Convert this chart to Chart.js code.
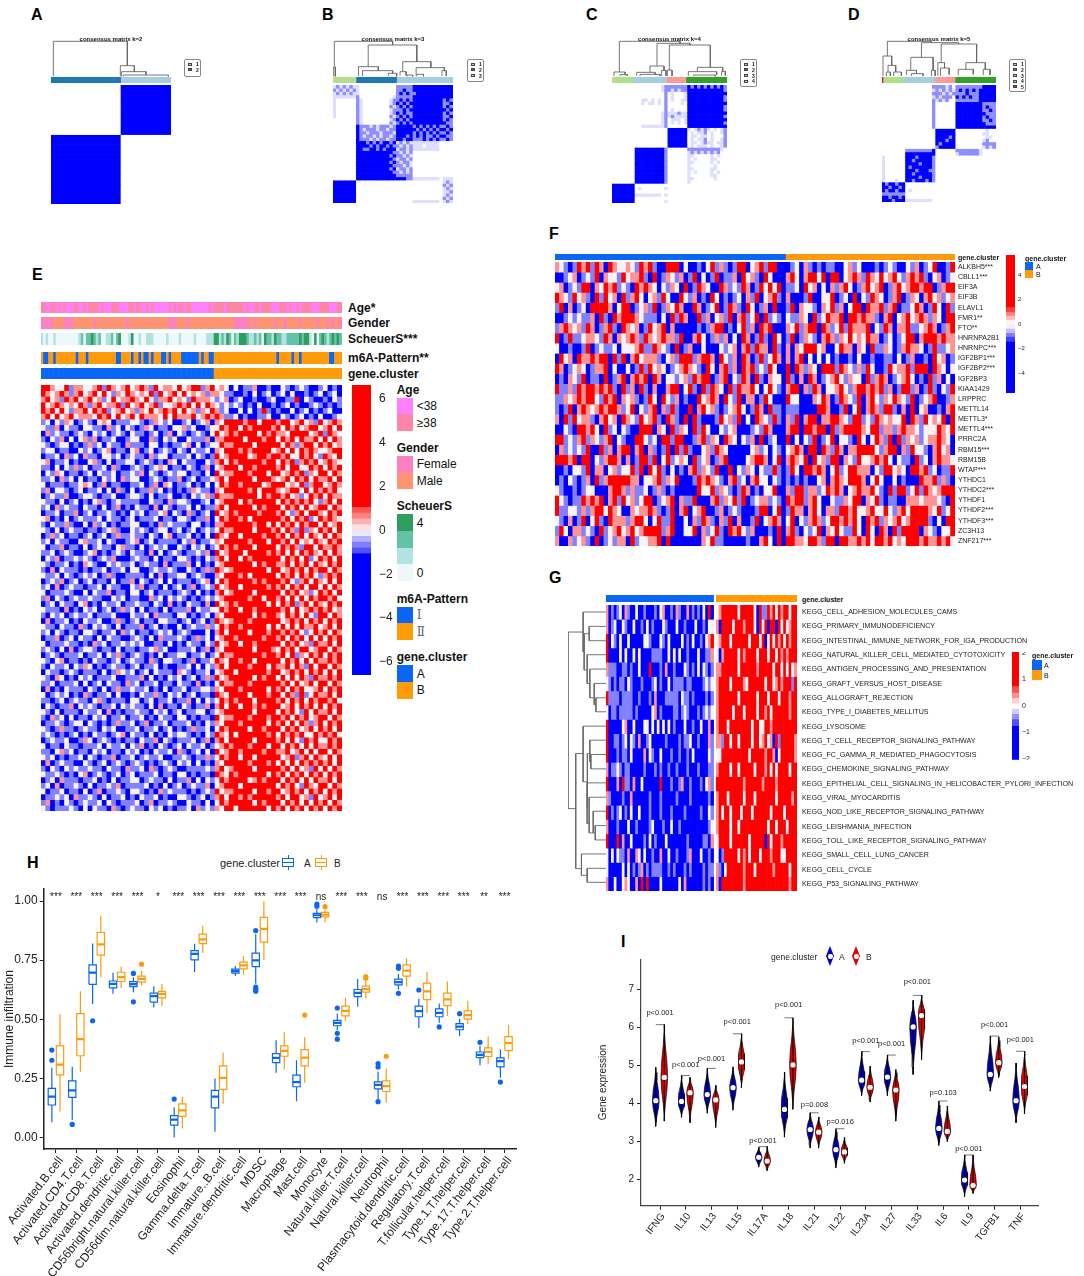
<!DOCTYPE html>
<html>
<head>
<meta charset="utf-8">
<title>m6A gene clusters</title>
<script src="https://cdn.jsdelivr.net/npm/chart.js@4"></script>
<style>
  body { margin: 0; background: #fff; }
  #page { position: relative; width: 1084px; height: 1276px; overflow: hidden; font-family: "Liberation Sans", Arial, sans-serif; }
  #page canvas { position: absolute; }
  .txt { position: absolute; white-space: nowrap; transform: translateY(-50%); color: #111; }
  .rect { position: absolute; box-sizing: border-box; }
</style>
</head>
<body>
<div id="page"></div>
<script>
// ---- panel H data
const cellTypes = ['Activated.B.cell','Activated.CD4.T.cell','Activated.CD8.T.cell','Activated.dendritic.cell','CD56bright.natural.killer.cell','CD56dim.natural.killer.cell','Eosinophil','Gamma.delta.T.cell','Immature..B.cell','Immature.dendritic.cell','MDSC','Macrophage','Mast.cell','Monocyte','Natural.killer.T.cell','Natural.killer.cell','Neutrophil','Plasmacytoid.dendritic.cell','Regulatory.T.cell','T.follicular.helper.cell','Type.1.T.helper.cell','Type.17.T.helper.cell','Type.2.T.helper.cell'];
const cellStars = ['***','***','***','***','***','*','***','***','***','***','***','***','***','ns','***','***','ns','***','***','***','***','**','***'];
const aLow  = [.065,.075,.565,.608,.615,.55,.001,.70,.025,.683,.65,.274,.154,.909,.454,.553,.163,.626,.463,.486,.43,.306,.253];
const aQ1   = [.138,.17,.648,.633,.638,.573,.053,.751,.126,.695,.723,.317,.215,.93,.473,.596,.206,.646,.511,.511,.456,.338,.299];
const aMed  = [.173,.20,.697,.65,.649,.598,.076,.777,.173,.704,.749,.337,.235,.94,.485,.612,.223,.657,.535,.527,.469,.35,.323];
const aQ3   = [.208,.24,.73,.662,.659,.611,.093,.79,.20,.712,.78,.355,.264,.948,.496,.626,.236,.67,.556,.544,.482,.362,.337];
const aHigh = [.295,.30,.82,.697,.678,.64,.128,.819,.25,.725,.86,.412,.327,.966,.524,.671,.278,.692,.587,.567,.503,.388,.374];
const aOut  = [[.37,.327],[.056],[.494],[],[.694,.574],[],[.163],[],[],[],[.875,.636,.626,.619],[],[],[.987,.978],[.548,.441,.416],[],[.313,.299,.152],[.725,.716,.61],[.624],[.468],[.524],[.403],[.235]];
const bLow  = [.11,.278,.678,.632,.643,.555,.039,.78,.143,.688,.751,.289,.232,.91,.494,.587,.147,.639,.527,.514,.48,.31,.331];
const bQ1   = [.265,.346,.771,.66,.657,.591,.09,.82,.204,.713,.826,.344,.303,.933,.515,.615,.195,.683,.583,.558,.501,.343,.368];
const bMed  = [.309,.416,.817,.678,.671,.608,.115,.838,.253,.728,.882,.367,.338,.942,.536,.628,.218,.706,.618,.584,.518,.362,.40];
const bQ3   = [.388,.524,.867,.699,.683,.618,.143,.86,.303,.742,.931,.388,.372,.952,.556,.64,.24,.73,.653,.611,.536,.379,.427];
const bHigh = [.521,.619,.938,.722,.705,.649,.173,.896,.36,.768,.999,.447,.424,.963,.591,.664,.292,.758,.70,.66,.579,.427,.475];
const bOut  = [[],[],[],[],[.733],[],[],[],[],[],[],[],[.518],[.976],[],[.681,.674],[.344],[],[],[],[],[],[]];

// ---- panel I data
const genes = ['IFNG','IL10','IL13','IL15','IL17A','IL18','IL21','IL22','IL23A','IL27','IL33','IL6','IL9','TGFB1','TNF'];
const vAHigh = [4.95,4.73,4.92,4.96,2.84,4.82,3.75,3.33,5.36,5.27,6.71,4.06,2.64,5.77,5.06];
const vALow  = [3.39,3.63,3.74,3.82,2.32,3.11,2.83,2.30,4.2,4.2,4.76,2.89,1.54,4.32,3.49];
const vAMed  = [4.07,4.05,4.23,4.41,2.58,3.84,3.31,2.78,4.61,4.69,6.01,3.34,1.98,4.76,4.07];
const vBHigh = [6.07,4.68,4.47,5.83,2.86,6.25,3.64,3.10,4.98,4.89,6.84,3.93,2.64,5.75,5.37];
const vBLow  = [3.53,3.49,3.36,4.41,2.23,3.84,2.82,2.42,4.04,3.53,5.14,2.99,1.63,4.68,3.72];
const vBMed  = [4.68,4.28,4.09,5.09,2.48,5.01,3.24,2.72,4.42,4.35,6.31,3.26,1.84,5.07,4.44];
const pTexts = ['p<0.001','p<0.001','p<0.001','p<0.001','p<0.001','p<0.001','p=0.008','p=0.016','p<0.001','p<0.001','p<0.001','p=0.103','p<0.001','p<0.001','p<0.001'];
const pHeight = [6.39,5.0,5.18,6.14,3.01,6.58,3.96,3.52,5.64,5.55,7.2,4.28,2.8,6.07,5.66];
const violinUp = [[1,1],[.3,.78],[.6,.32],[.85,.07],[1,0]];

// ---- panel F data
const m6aGenes = ['ALKBH5***','CBLL1***','EIF3A','EIF3B','ELAVL1','FMR1**','FTO**','HNRNPA2B1','HNRNPC***','IGF2BP1***','IGF2BP2***','IGF2BP3','KIAA1429','LRPPRC','METTL14','METTL3*','METTL4***','PRRC2A','RBM15***','RBM15B','WTAP***','YTHDC1','YTHDC2***','YTHDF1','YTHDF2***','YTHDF3***','ZC3H13','ZNF217***'];
const m6aRows = [
 '3210143414 3043223214 3410044402 0010241310 1440234144 00 0120310101 1002312000 1012100213 01240014',
 '0012301214 0322142334 1040132130 1402014011 3042310420 00 3420344240 4402343143 2423421343 41023012',
 '2301214403 2434121043 4320213204 0143200431 2143014242 40 1120423020 3134201342 3401342344 34401344',
 '4321423104 1423041342 0231420042 1301042010 1203140234 10 3000140022 4012040214 3201340132 03423123',
 '1403012044 4430244012 3140132430 0430124014 3104201304 00 1403221032 4130244043 3413401124 30142041',
 '0012121130 4104344432 1110204143 0041302314 0341240412 10 2113204124 3340443433 1034023423 43132044',
 '1343231430 1341043230 1423403000 0010134401 0241304340 00 3241344043 1241433340 2143033411 23430134',
 '4014112332 1430323431 4323433140 0342013130 2043014104 20 1401321034 3132423243 3012012440 34443433',
 '2001001401 2112022234 1143210401 3002000212 3034143304 10 3032444230 0243303204 1132013433 20141123',
 '0423043343 4404140342 3331023144 4134430421 3043014124 30 3034020202 0100102001 0011020130 01042301',
 '4301232013 3402002014 1423201234 3210420341 3043412142 00 4043132044 4143213142 0014233414 44043202',
 '0103214011 0401340343 4043022123 1434401340 2143041032 20 4103043012 3421322041 3430123420 10413020',
 '4113143443 4341041304 1030034402 4104143204 1433420242 10 3440314302 2342134434 3413014413 01410214',
 '1132343442 1434032310 1420421301 0042343042 1403301420 00 4220003243 0143214034 2132432140 12340013',
 '1014034323 4344312402 1340314100 4034231012 3420143041 10 1110000443 0014024034 3144103040 23001034',
 '3041423310 3423043214 2341043104 0410001423 1402043214 10 3140344033 4432144121 4323224043 14232404',
 '0021044342 0412021004 4403204132 0414200212 3000121430 00 3440443440 4134444324 4133134332 12224324',
 '4412134132 1340210044 2120441440 0134132043 2021304012 00 4020214012 4022104202 4314041323 12334320',
 '0312121400 4130344034 0310140414 1002314320 0000231202 10 2343044043 1430334444 2134403142 21034230',
 '4443404402 1344303014 4140241232 0412301340 0002344302 40 3432404231 4403214223 4342021104 12034332',
 '0010221403 3023122414 0424102010 3413214004 0213202114 10 1420443430 2412443330 2144232044 34120114',
 '0102101304 1344444330 2234132400 0143432103 4120342202 10 1010100230 3432444302 4200201000 43341310',
 '2100101220 0034431311 2013101000 0042241321 0143010224 00 3144133124 3430234334 2104144124 14323444',
 '4210114343 4034142312 4401234031 1400034132 4140123312 10 4344134200 2113244032 4101100333 23332104',
 '4112213134 4243200323 3431014034 0234001301 2100014402 40 1433034203 3144342234 2242134244 44324124',
 '2103014024 1043331344 2024114002 0314310314 0300140234 30 2402134312 4434342043 4132342344 44102044',
 '1420331210 4123423423 4444134002 2403124104 3421300010 40 3410212403 2421142042 0430414444 03210224',
 '3003123104 0121330412 2334040000 0003241100 0001003420 40 4433244314 4044334342 4434232444 34334342'
];

// ---- panel G data
const keggPaths = ['KEGG_CELL_ADHESION_MOLECULES_CAMS','KEGG_PRIMARY_IMMUNODEFICIENCY','KEGG_INTESTINAL_IMMUNE_NETWORK_FOR_IGA_PRODUCTION','KEGG_NATURAL_KILLER_CELL_MEDIATED_CYTOTOXICITY','KEGG_ANTIGEN_PROCESSING_AND_PRESENTATION','KEGG_GRAFT_VERSUS_HOST_DISEASE','KEGG_ALLOGRAFT_REJECTION','KEGG_TYPE_I_DIABETES_MELLITUS','KEGG_LYSOSOME','KEGG_T_CELL_RECEPTOR_SIGNALING_PATHWAY','KEGG_FC_GAMMA_R_MEDIATED_PHAGOCYTOSIS','KEGG_CHEMOKINE_SIGNALING_PATHWAY','KEGG_EPITHELIAL_CELL_SIGNALING_IN_HELICOBACTER_PYLORI_INFECTION','KEGG_VIRAL_MYOCARDITIS','KEGG_NOD_LIKE_RECEPTOR_SIGNALING_PATHWAY','KEGG_LEISHMANIA_INFECTION','KEGG_TOLL_LIKE_RECEPTOR_SIGNALING_PATHWAY','KEGG_SMALL_CELL_LUNG_CANCER','KEGG_CELL_CYCLE','KEGG_P53_SIGNALING_PATHWAY'];
const keggRows = [
 '3010120310 0200100010 2300103100 3010102040 . 2344444424 4444204114 3424344244',
 '3012002100 2001020100 0210002001 0002001022 . 3044442444 3444204240 4404242344',
 '4021020020 0000221000 2102000020 1020010234 . 2344424444 4424442402 4243424344',
 '4000020200 2020000111 1002020200 1000200113 . 2034444424 3444424442 4424343444',
 '3111001101 0020004000 1030010002 1010202101 . 3344444424 4444434444 4244242423',
 '2101011021 0001000120 1002011110 1100001212 . 3444424444 3244444424 4234344414',
 '4111101111 0010001030 0011111021 1010000101 . 3444444424 4444424442 4442444344',
 '2011011111 0100000230 1000011012 1000101212 . 3444442444 2444424434 2444444344',
 '4000002300 2000220202 0202010002 0010020030 . 3444244444 4442442244 3444444444',
 '4001101202 1030012000 0010000101 1200100031 . 3314424424 4442442342 3041444443',
 '4000101102 0000302100 2000100100 1020000021 . 2244444444 4424444434 4302444443',
 '3011210110 0000100010 1001001000 1000100011 . 3444424424 4444244434 2424444244',
 '4000304110 3002000000 4000100130 0100010231 . 4444444444 3444444344 4434444444',
 '3100001003 0000001000 1000001000 0100000010 . 3444244444 2444244444 4424444434',
 '4010120102 0020001000 1000100001 0000010021 . 3424424442 4442444444 2444424444',
 '3000100020 0100001200 0100200100 0000000012 . 3444424424 4444444442 4424442444',
 '4000403002 0000102010 0020000000 1000001103 . 2444424444 4424444404 2444344444',
 '2020211030 0320200100 3002001000 1300020010 . 2014444424 3424442444 3444224444',
 '2000002020 1013010111 1001010001 0100001011 . 3102444444 3444244444 4344444244',
 '3002002320 0304040000 2000000203 0000001010 . 3044444444 3444444444 4444444344'
];
const keggTree = [[113,186,68,715,90],[68,126,0,245,65],[65,191,50,300,56],[50,169,0,212,0],[56,254,0,340,48],[48,297,0,383,35],[35,340,0,404,30],[30,383,0,425,0],[90,550,68,895,73],[68,468,0,635,55],[55,550,48,715,56],[48,510,0,575,45],[45,553,0,596,0],[56,638,0,760,50],[50,681,0,788,38],[38,723,0,788,32],[32,766,0,809,0],[73,851,0,915,56],[56,894,0,936,0]];

// ---- panel E data
const ageTrack    = 'bbaabbabab aaabbaabab bbbabaaabb baaaabbabb aababaaaaa abababbabb aaaaaaabab bbbabbbbbb babaabbabb bbaaabbbab aababbbbaa abbbbaaabb';
const genderTrack = 'fffffmmmmf fffmmmmmmm mfmmmmmmmm mmmmfmmmmm mmmmmmmmmm mfffmmmmfm mmmmmmmmmm mmmmmmmfff fffmmfmmmm mmmfmmmfmm mmmfmmmmmm fmmmfmfmmf';
const scheuerTrack= '1010010000 0000012022 3212001120 2300013001 0011100000 1000010000 0100001113 3121320213 3321121203 2213221122 2223233103 0232123232';
const patternTrack= 'baabbabbbb bbbbabbbab bbbbbbbbbb aabbbbabba baababbbaa babbbbaaaa aaababbaab bbbbbbbbbb bbbbbbbbbb bbbbabbbbb abbabbbbbb bbbbbaabbb';
const clusterTrack= 'aaaaaaaaaa aaaaaaaaaa aaaaaaaaaa aaaaaaaaaa aaaaaaaaaa aaaaaaaaaa aaaaaaaaab bbbbbbbbbb bbbbbbbbbb bbbbbbbbbb bbbbbbbbbb bbbbbbbbbb';
const exprRows = [
 '4432241332 2341432342 3431423324 2344134 232 0201130010 0210121001 2010',
 '4323431342 3424213243 2324142342 4232313 321 1001020120 1202001012 0120',
 '3423143423 4231242334 3242133423 2143332 123 0120010012 0011402100 1021',
 '4234323243 1342334142 3423412234 3424243 212 1210102001 0120100121 0101',
 '4342421334 2434123423 1324234342 4231324 312 0020201410 1002012010 1200',
 '3424234233 3243424234 2433324243 3342343 431 1201001120 0210120102 0012',
 '1202132012 1023201112 2101321200 1201230 324 4443442444 3442342314 2343',
 '2113021102 2110312021 0132011022 3120012 243 4424344443 4243423442 3424',
 '0312110121 0212012102 1101201302 1012102 423 4344442434 3324444234 1432',
 '1021302023 1301120012 2003102120 0211130 334 4442444344 2434243342 4243',
 '2101220101 3120211031 1102201011 2302012 243 3444424444 4243134424 3423',
 '1220110021 2012301102 3012012102 1021120 324 4434344442 3424243432 2344',
 '0112031203 1102212012 1103122011 1202101 423 4444234434 4342243421 4324',
 '2301120100 2310201122 0121010320 2110021 342 4344444344 2434134342 3432',
 '1102021312 0112031001 2101232011 0210130 234 4424434444 3424422434 2434',
 '0213201101 2021120112 1302101212 2011020 423 3444344424 4234341324 4243',
 '1120312020 1102120312 2001210113 0120112 342 4444424443 2342434243 3424',
 '2011101123 2013011001 1201303201 1201020 243 4434444234 4423241344 2343',
 '1302210120 1120203102 0113120101 0132110 324 4444342444 3234424243 4342',
 '0121130012 2101120012 2102011200 1021231 433 3444442434 4342312434 2433',
 '2110201201 0231012111 1002110312 2100120 234 4424344444 2434343421 3424',
 '1203121102 1102013010 2110302101 1202011 342 4444424344 4243424234 4243',
 '0112011301 2011210102 1201123021 0310120 423 4344443444 3421342443 2434',
 '2301020121 1120211012 0111201102 2101130 243 4434244444 4342434124 3432',
 '1021131002 0312010112 2001031211 1022010 334 4444434424 2434243442 4234',
 '2102012110 1101231002 1210122012 0120121 243 3444424443 4243141324 3424',
 '0131201101 2012013112 1102102301 1201020 432 4424444344 3424342432 4243',
 '1202110023 1120210012 3012011110 2130112 324 4444344424 4342423243 2434',
 '2011301102 0121102311 0201212002 1021201 243 4344424444 2434314424 3343',
 '1120121001 2301012102 1103020121 0112130 423 4442444434 3424243432 4243',
 '0213011212 1012130001 2110201102 2101021 342 4424344444 4243424124 3424',
 '2101120103 2100212112 0121103011 1302010 234 4444424344 3342434243 2434',
 '1030211101 0112011202 2001211210 0210131 432 3444444424 4234342434 4243',
 '2112021012 1201310011 1102030112 2012100 324 4434244444 2434243421 3434',
 '0121301201 2011020113 0210120201 1101230 243 4444434344 4342134243 2424',
 '1203012110 1120211002 1301102012 0130121 423 4424444434 3424342442 4243',
 '2011121002 0211301102 2012011101 2102010 342 3444424444 4243423124 3424',
 '1302101211 2110021201 1003120212 1010121 234 4444344244 3424242434 4342',
 '0120211023 0102112011 2110210301 0211030 423 4344444424 2434134243 2434',
 '2111030102 1201201312 0201102011 1302112 243 4424434444 4342423434 3423',
 '1021201211 2011120002 1120311102 2010120 324 4444424344 3243424214 4243',
 '0301120102 1120013101 2011022110 1201201 432 3444344444 4234342434 2434',
 '2110211031 0212102011 1301201002 0121131 243 4434444424 2424243342 3424',
 '1202101102 2101120312 0110121201 2100020 342 4444244434 4343421243 4243',
 '0113012021 1020211001 2102031112 1013120 234 4344444344 3424342424 2434',
 '2011121101 0312011212 1200110201 0211021 423 4424434444 4243423143 3424',
 '1210203012 2101102011 0112312001 1120130 324 4444424443 2434244234 4243',
 '0121011120 1120213101 2101020112 2011201 243 3444444344 3424132434 2434',
 '2102301101 0211012012 1103102211 0130112 432 4434424444 4243424243 3434',
 '1021120213 2010121101 2011201001 1202021 342 4444344424 3342431424 4243',
 '0211012101 1102013212 0120211103 2101120 234 4244444434 4234342434 2424',
 '2103201021 2011120011 1302010212 0120131 423 4444424344 2424243143 3434',
 '1120111202 0120211031 2011201102 1103010 243 3444344444 4342423424 4243',
 '0301021110 2102013112 1120102011 2011221 324 4434444424 3424342234 2434',
 '2012120103 1011202001 0211310212 0120110 432 4444244434 4243141243 3424',
 '1101201211 0231011102 2012011201 1302021 243 4344424444 3424342434 4342',
 '0210113021 2101120212 1102030110 2101130 342 4424434344 4234243424 2434',
 '2102011102 1120301011 2110212012 0112201 234 4444424444 2434214243 3424',
 '1031202011 0212011201 1201021102 2010110 423 3444344434 4342434234 4243',
 '0112101220 2101013112 0130112011 1201021 324 4434444424 3424243134 2434',
 '2101311012 1102120011 2011201201 0131120 243 4444244344 4243423424 3424',
 '1210101201 0211012302 1102010212 2101021 432 4244444434 2434342243 4342',
 '0121120013 2012101011 0211302101 1120130 342 4444424444 3424214342 2434',
 '2011021101 1120211202 1301021012 0211201 234 3444344424 4243424243 3434',
 '1102312011 0212011021 2010211203 1012020 423 4434444344 3342342424 4243',
 '2120101120 2101130112 0121120011 2101131 243 4424424444 4234134243 2424',
 '0301211002 1012012101 2101012102 1202010 324 4444344434 2424243434 3424',
 '1021021211 2110211031 1203101210 0111121 342 3444424444 4342423142 4243',
 '2112101023 0121012012 0111201102 2010110 432 4344444424 3424342434 2434',
 '0120311101 1201020112 2012110201 1302021 243 4444234344 4243424243 3424',
 '1203011210 2011213011 1120102012 0121130 234 4424444444 2434214324 4243',
 '2011201102 0130112102 2101031211 1010121 423 3444424434 4234342434 2434',
 '0112120311 2102011201 0211201002 2101201 342 4434344444 3424423142 3424',
 '1301021012 1120210111 2013011210 0211020 243 4444424344 4243424243 4243',
 '2101112102 0211031012 1102120101 1203121 324 4244444424 3424342434 2434'
];

// ---- panels A-D data
const consensusA = [
 '000000033333','000000033333','000000033333','000000033333','000000033333',
 '333333300000','333333300000','333333300000','333333300000','333333300000','333333300000','333333300000'
];
const consensusB = [
 '1212121 1 00000000000 22222 333333333 333','2121212 1 00000000000 22322 333333333 333','1212121 1 00000000000 23232 233333333 333','1111111 2 00000000001 22222 333333333 333',
 '1000000 2 10000000012 23232 333333333 232','1000000 2 10000000012 32323 333333333 223','1000000 2 10000000021 23232 333333333 232','1000000 2 10000000012 22323 333333333 323','1000000 2 10000000012 32322 333333333 232','1000000 2 10000000021 23232 333333333 223','0000000 2 10000000012 32323 333333333 232','0000000 2 10000000021 23232 333333333 322',
 '0000000 3 22212122212 33333 232323232 232','0000000 3 21222122122 33333 323232323 323','0000000 3 22122212221 33333 232323232 232','0000000 3 21221212212 33323 232322323 322','0000000 3 22212122122 33233 222323232 232',
 '0000000 3 33232323323 12121 111111110 000','0000000 3 33323233232 21212 111011110 000','0000000 3 32233232333 12212 111111110 000',
 '0000000 3 33333333332 21212 000000000 000','0000000 3 33333333323 22121 000000000 000','0000000 3 33333333332 12212 000000000 000','0000000 3 33333333323 21221 000000000 000','0000000 3 33333333332 22121 000000000 000','0000000 3 33333333323 12212 000000000 000','0000000 3 33333333332 21212 000000000 000',
 '0000000 3 33333333333 22222 000000000 000','0000000 3 33333333333 33322 111111110 111',
 '3333333 0 00000000000 00000 000000000 121','3333333 0 00000000000 00000 000000000 212','3333333 0 00000000000 00000 000000000 121','3333333 0 00000000000 00000 000000000 112','3333333 0 00000000000 00000 000000000 121','3333333 0 00000000000 00000 000000000 212','3333333 0 00000000000 00000 111111110 121'
];
const consensusC = [
 '0000000 00000000 12 222222 323232323232','0000000 00000000 12 212122 333333333332','0000000 00000000 02 010001 333333333333','0000000 00000000 02 010001 333333333332','0000000 00110101 02 010011 333333333332','0000000 00101101 02 000010 333333333333','0000000 00000000 02 000000 333333333332','0000000 00000000 02 010000 333333333332','0000000 00000000 12 111211 333333333333','0000000 00000000 12 121111 333333333332','0000000 00000000 12 011101 333333333333','0000000 00000000 12 010101 333333333332','0000000 00111111 12 000000 333333333333',
 '0000000 00000000 00 333333 101212101012','0000000 00000000 00 333333 010112010012','0000000 00000000 00 333333 011011010002','0000000 00000000 00 333333 010112010012','0000000 00000000 00 333333 011012110112','0000000 00000000 00 333333 010111010012',
 '0000000 33333333 32 000000 222222222210','0000000 33333333 32 000000 121212121200','0000000 33333333 32 000000 110000010100','0000000 33333333 32 000000 101000011000','0000000 33333333 32 000000 110000010100','0000000 33333333 32 000000 100000001000','0000000 33333333 32 000000 110000011000','0000000 33333333 32 000000 101000010100','0000000 33333333 32 000000 100000011000','0000000 33333333 32 000000 110000001000','0000000 33333333 32 000000 100000000000',
 '3333333 00000000 00 000000 000000000000','3333333 01000000 01 000000 000000000000','3333333 00000000 00 000000 000000000000','3333333 11111111 01 000000 000000000000','3333333 00000000 00 000000 000000000000','3333333 00000000 01 000000 000000000000'
];
const consensusD = [
 '0000000 000000002 222120 222222223333','0000000 000000001 212121 232323233333','0000000 000000002 221212 222322233333','0000000 000000001 212220 323232233333','0000000 000000002 121200 222222233333',
 '0000000 000000002 000000 333333332222','0000000 000000002 000000 333333332322','0000000 000000002 000000 333333332232','0000000 000000002 000000 333333333222','0000000 000000002 000000 333333332322','0000000 000000002 000000 333333332232','0000000 000000002 000000 333333333222','0000000 000000002 000000 333333333333',
 '0000000 000000000 333333 000000000100','0000000 000000000 333333 000000001100','0000000 000000000 333323 000000000110','0000000 000000000 333233 000000001200','0000000 000000000 323333 000000002222','0000000 000000000 233333 000000001212',
 '0000000 222222223 000000 222222210000','0000000 333333333 000000 122222210000',
 '1000000 333233332 000000 000000000000','1000000 332333332 000000 000000000000','1000000 333323332 000000 000000000000','1000000 323333332 000000 000000000000','1000000 333233322 000000 000000000000','1000000 332333332 000000 000000000000','1000000 333323332 000000 000000000000','1000100 332333232 000000 000000000000',
 '3233233 000000000 000000 000000000000','3323323 000000000 000000 000000000000','3233233 010000000 000000 000000000000','2222222 000000000 000000 000000000000','3323323 000000000 000000 000000000000','3332333 111111110 000000 000000000000'
];
const trackA = 'bbbbbbbbbbbbbbbbbbbbbbbbaaaaaaaaaaaaaaaaa';
const trackB = 'ggggggggggggggbbbbbbbbbbbbbbbbbbbbbbbbaaaaaaaaaaaaaaaaaaaaaaaaaaaaaaaaa';
const trackC = 'ggggggggggggggaaaaaaaaaaaaaaaaaaaappppppppppppddddddddddddddddddddddddd';
const trackD = 'rggggggggggggaaaaaaaaaaaaaaaaaaappppppppppppdddddddddddddddddddddddd';
const treeA = [[107,160,2,382,34],[34,361,2,403,16],[16,365,2,438,6],[6,370,2,505,2]];
const treeB = [[107,1004,30,1178,96],[30,1002,2,1007,2],[96,1105,31,1250,46],[31,1076,3,1135,19],[19,1088,3,1178,11],[11,1165,2,1190,2],[46,1208,16,1292,28],[16,1200,4,1218,4],[6,1222,2,1238,2],[28,1248,4,1332,19],[19,1325,3,1338,3],[8,1250,2,1270,2]];
const treeC = [[107,238,15,420,101],[15,222,3,255,7],[7,240,3,262,3],[101,351,33,450,96],[33,330,14,372,20],[14,290,4,345,8],[8,300,3,360,3],[20,365,3,378,3],[96,388,21,511,29],[21,382,3,396,3],[29,472,16,548,17],[16,445,3,530,6],[6,460,2,525,2],[17,545,4,556,4]];
const treeD = [[107,1043,63,1175,103],[63,1030,3,1056,35],[35,1045,15,1068,15],[15,1040,3,1052,3],[15,1062,3,1085,3],[103,1145,59,1256,99],[59,1113,20,1180,20],[20,1100,6,1130,10],[10,1115,3,1150,3],[20,1175,3,1186,3],[99,1204,43,1310,43],[43,1194,3,1214,27],[27,1202,4,1228,7],[43,1278,23,1336,23],[23,1255,5,1300,8],[23,1330,6,1350,6]];

// ---- colours
const BLUE = '#0a66f5', ORANGE = '#ff9a0a';
const heatColors = { 0: '#0000ff', 1: '#8282ff', 2: '#f6f2f6', 3: '#ff9292', 4: '#ff0000' };
const consensusColors = { 0: '#ffffff', 1: '#dedeff', 2: '#8e8eff', 3: '#0000ff' };
const clusterColors = { a: BLUE, b: ORANGE };
const pairedColors = { a: '#a6cee3', b: '#1f78b4', g: '#b2df8a', d: '#33a02c', p: '#fb9a99', r: '#e31a1c' };

Chart.defaults.font.family = '"Liberation Sans", Arial, sans-serif';
Chart.defaults.animation = false;
Chart.defaults.responsive = false;
Chart.defaults.events = [];
Chart.defaults.layout.autoPadding = false;
Chart.defaults.plugins.legend.display = false;
Chart.defaults.plugins.tooltip.enabled = false;

const page = document.getElementById('page');

function addCanvas(x, y, w, h) {
  const c = document.createElement('canvas');
  c.width = w; c.height = h;
  c.style.left = x + 'px'; c.style.top = y + 'px';
  page.appendChild(c);
  return c;
}

function label(x, y, text, size, opts = {}) {
  const d = document.createElement('div');
  d.className = 'txt';
  d.textContent = text;
  d.style.left = x + 'px'; d.style.top = y + 'px';
  d.style.fontSize = size + 'px';
  if (opts.bold) d.style.fontWeight = 'bold';
  if (opts.color) d.style.color = opts.color;
  if (opts.family) d.style.fontFamily = opts.family;
  page.appendChild(d);
  return d;
}

function rect(x, y, w, h, bg, border) {
  const d = document.createElement('div');
  d.className = 'rect';
  d.style.cssText = `left:${x}px;top:${y}px;width:${w}px;height:${h}px;background:${bg || 'transparent'};${border ? 'border:' + border : ''}`;
  page.appendChild(d);
  return d;
}

// every cell is a floating bar, one dataset per row
function heat(box, rows, colors, rowLabels, labelOpts) {
  const clean = rows.map(r => r.replace(/ /g, ''));
  const cols = Math.max(...clean.map(r => r.length));
  const labels = Array.from({ length: cols }, (_, i) => i);
  const datasets = clean.map((row, r) => ({
    data: labels.map(() => [r, r + 1]),
    backgroundColor: labels.map(i => colors[row[i]] || 'rgba(0,0,0,0)'),
    barPercentage: 1, categoryPercentage: 1, grouped: false
  }));
  const yAxis = { display: false, min: 0, max: rows.length, reverse: true };
  if (rowLabels) Object.assign(yAxis, {
    display: true, position: 'right',
    grid: { display: false, drawTicks: false }, border: { display: false },
    afterBuildTicks(s) { s.ticks = rowLabels.map((_, i) => ({ value: i + 0.5 })); },
    afterFit(s) { s.width = labelOpts.width; s.paddingTop = 0; s.paddingBottom = 0; },
    ticks: { autoSkip: false, padding: labelOpts.padding, color: '#222', font: { size: labelOpts.size }, callback: v => rowLabels[v - 0.5] }
  });
  new Chart(addCanvas(...box), {
    type: 'bar',
    data: { labels, datasets },
    options: { scales: { x: { display: false }, y: yAxis } }
  });
}

function colorBar(box, bands, min, max, tickValues, size, barWidth, padding) {
  new Chart(addCanvas(...box), {
    type: 'bar',
    data: { labels: [''], datasets: bands.map(b => ({ data: [[b[0], b[1]]], backgroundColor: b[2], barPercentage: 1, categoryPercentage: 1, grouped: false })) },
    options: { scales: {
      x: { display: false },
      y: {
        min, max, position: 'right', grid: { display: false, drawTicks: false }, border: { display: false },
        afterBuildTicks(s) { s.ticks = tickValues.map(value => ({ value })); },
        afterFit(s) { s.width = box[2] - barWidth; s.paddingTop = 0; s.paddingBottom = 0; },
        ticks: { padding, color: '#222', font: { size }, callback: v => String(v).replace('-', '\u2212') }
      }
    } }
  });
}

// tree nodes: [merge height, leaf a, height a, leaf b, height b]
function tree(box, nodes, leafMin, leafMax, heightMax, sideways) {
  const pts = [];
  nodes.forEach(([h, a, ha, b, hb]) => {
    const path = [[a, ha], [a, h], [b, h], [b, hb]];
    path.forEach(([l, v]) => pts.push(sideways ? { x: v, y: l } : { x: l, y: v }));
    pts.push({ x: NaN, y: NaN });
  });
  const leaf = { display: false, type: 'linear', min: leafMin, max: leafMax };
  const height = { display: false, type: 'linear', min: 0, max: heightMax };
  new Chart(addCanvas(...box), {
    type: 'scatter',
    data: { datasets: [{ data: pts, showLine: true, pointRadius: 0, borderColor: '#666', borderWidth: 0.9, spanGaps: false }] },
    options: { scales: sideways ? { x: { ...height, reverse: true }, y: { ...leaf, reverse: true } } : { x: leaf, y: height } }
  });
}

function keyBox(x, y, w, h, colors) {
  rect(x, y, w, h, '#fff', '1px solid #888').style.borderRadius = '2px';
  colors.forEach((col, i) => {
    const yy = y + 5.3 + i * 5.6;
    rect(x + 4, yy - 1.6, 4, 3.2, col, '0.5px solid #444');
    label(x + 12, yy, String(i + 1), 5, { bold: true });
  });
}

function textPlugin(items) {
  return {
    id: 'valueText',
    afterDatasetsDraw(chart) {
      const { ctx, scales } = chart;
      ctx.save();
      ctx.textAlign = 'center';
      ctx.textBaseline = 'middle';
      items.forEach(t => {
        ctx.font = t.font;
        ctx.fillStyle = t.color;
        ctx.fillText(t.text, scales.x.getPixelForValue(t.x), scales.y.getPixelForValue(t.y));
      });
      ctx.restore();
    }
  };
}

// fills the closed outline of a line dataset (violins)
const outlineFill = {
  id: 'outlineFill',
  beforeDatasetsDraw(chart) {
    const { ctx } = chart;
    chart.data.datasets.forEach((ds, i) => {
      if (!ds.outlineColor) return;
      ctx.save();
      ctx.beginPath();
      chart.getDatasetMeta(i).data.forEach((p, k) => { k ? ctx.lineTo(p.x, p.y) : ctx.moveTo(p.x, p.y); });
      ctx.closePath();
      ctx.fillStyle = ds.outlineColor;
      ctx.fill();
      ctx.restore();
    });
  }
};

function axisStyle(extra) {
  return Object.assign({
    type: 'linear',
    border: { display: true, color: '#222', width: 1.5 },
    grid: { display: true, drawOnChartArea: false, drawTicks: true, tickLength: 4, tickColor: '#222', tickWidth: 1 }
  }, extra);
}

// ---- panel letters
[['A', 31, 15], ['B', 322, 15], ['C', 586, 15], ['D', 848, 15], ['E', 32, 275], ['F', 549, 234], ['G', 549, 578], ['H', 27, 863], ['I', 621, 942]]
  .forEach(([t, x, y]) => label(x, y, t, 16, { bold: true, color: '#000' }));

// ---- panels A-D
function consensus(x, w, matrix, matrixH, track, nodes, leafMin, leafMax, title, keyX, keyH, keyColors) {
  tree([x, 39, w, 38], nodes, leafMin, leafMax, 114);
  heat([x, 77, w, 6], [track], pairedColors);
  heat([x, 85, w, matrixH], matrix, consensusColors);
  const t = label(x + w / 2, 38.7, title, 6, { bold: true });
  t.style.transform = 'translate(-50%,-50%)';
  keyBox(keyX, 59, 17, keyH, keyColors);
}
const c = pairedColors;
consensus(51, 120, consensusA, 119, trackA, treeA, 153, 513, 'consensus matrix k=2', 184, 18, [c.a, c.b]);
consensus(333, 120, consensusB, 118, trackB, treeB, 1000, 1358, 'consensus matrix k=3', 467, 23, [c.a, c.b, c.g]);
consensus(612, 115, consensusC, 118, trackC, treeC, 216, 561, 'consensus matrix k=4', 740, 28, [c.a, c.d, c.p, c.g]);
consensus(882, 114, consensusD, 117, trackD, treeD, 1027, 1368, 'consensus matrix k=5', 1009, 33, [c.a, c.d, c.p, c.g, c.r]);

// ---- panel E
heat([41, 302, 301, 11], [ageTrack], { a: '#ff80ff', b: '#ff85a8' });
heat([41, 317, 301, 12], [genderTrack], { f: '#ff80c0', m: '#ff9473' });
heat([41, 333, 301, 12], [scheuerTrack], { 0: '#edf8fb', 1: '#b2e2e2', 2: '#66c2a5', 3: '#2e9e5e' });
heat([41, 352, 301, 12], [patternTrack], clusterColors);
heat([41, 368, 301, 11], [clusterTrack], clusterColors);
heat([41, 385, 301, 426], exprRows, heatColors);
[['Age*', 307.7], ['Gender', 323], ['ScheuerS***', 338.7], ['m6A-Pattern**', 358], ['gene.cluster', 373.7]]
  .forEach(([t, y]) => label(348, y, t, 12, { bold: true }));
colorBar([352, 385, 44, 290], [[1.09, 6.64, '#ff0000'], [.82, 1.09, '#ff5555'], [.56, .82, '#ff8080'], [.29, .56, '#ffb0b0'], [.03, .29, '#ffe0e0'], [-.24, .03, '#e8e8ff'], [-.5, -.24, '#b0b0ff'], [-.77, -.5, '#8080ff'], [-1.03, -.77, '#5050ff'], [-6.6, -1.03, '#0000ff']], -6.6, 6.64, [-6, -4, -2, 0, 2, 4, 6], 12, 19, 8);

function legendBlock(title, titleY, y0, step, items) {
  label(396.7, titleY, title, 12, { bold: true });
  items.forEach(([color, text, extra], i) => {
    rect(396.7, y0 + i * step, 16, step, color);
    if (text) label(416.7, y0 + i * step + step / 2, text, 12, extra);
  });
}
legendBlock('Age', 390, 397.7, 16.7, [['#ff80ff', '<38'], ['#ff85a8', '\u226538']]);
legendBlock('Gender', 448, 456, 16.7, [['#ff80c0', 'Female'], ['#ff9473', 'Male']]);
legendBlock('ScheuerS', 506.3, 514.3, 16.7, [['#2e9e5e', '4'], ['#66c2a5', ''], ['#b2e2e2', ''], ['#edf8fb', '0']]);
legendBlock('m6A-Pattern', 599, 606.7, 16.7, [[BLUE, '\u2160', { color: '#666', family: '"DejaVu Serif", serif' }], [ORANGE, '\u2161', { color: '#666', family: '"DejaVu Serif", serif' }]]);
legendBlock('gene.cluster', 657.3, 665.3, 16.7, [[BLUE, 'A'], [ORANGE, 'B']]);

// ---- panel F
heat([555, 254, 400, 6], ['a'.repeat(52) + 'b'.repeat(38)], clusterColors);
heat([555, 262, 460, 284], m6aRows, heatColors, m6aGenes, { width: 60, size: 7, padding: 3 });
label(958, 257, 'gene.cluster', 7, { bold: true });
colorBar([1006, 255, 20, 138], [[3, 5.62, '#ff0000'], [1.4, 3, '#ff0000'], [1, 1.4, '#ff4040'], [.7, 1, '#ff8080'], [.35, .7, '#ffc0c0'], [0, .35, '#fff4f4'], [-.35, 0, '#f0f0ff'], [-.7, -.35, '#c0c0ff'], [-1, -.7, '#8080ff'], [-1.4, -1, '#4040ff'], [-5.6, -1.4, '#0000ff']], -5.6, 5.62, [-4, -2, 0, 2, 4], 6, 9, 3);
label(1025, 258, 'gene.cluster', 7, { bold: true });
rect(1025, 262, 8, 8, BLUE); rect(1025, 270, 8, 8, ORANGE);
label(1036, 266, 'A', 7); label(1036, 274, 'B', 7);

// ---- panel G
heat([606, 595, 191, 7], ['a'.repeat(40) + '.' + 'b'.repeat(30)], clusterColors);
heat([606, 605, 478, 286], keggRows, { ...heatColors, 2: '#f8f4f8' }, keggPaths, { width: 287, size: 7.1, padding: 5 });
tree([568, 605, 38, 286], keggTree, 105, 962, 113, true);
label(802, 599, 'gene.cluster', 7, { bold: true });
colorBar([1012, 652, 20, 108], [[.75, 2.03, '#ff0000'], [.5, .75, '#ff5050'], [.3, .5, '#ff9090'], [.1, .3, '#ffd0d0'], [-.1, .1, '#ffffff'], [-.3, -.1, '#d0d0ff'], [-.5, -.3, '#9090ff'], [-.75, -.5, '#5050ff'], [-2.03, -.75, '#0000ff']], -2.05, 2.03, [-2, -1, 0, 1, 2], 7, 7, 3);
label(1032, 654.7, 'gene.cluster', 7, { bold: true });
rect(1032, 660, 10.3, 10, BLUE); rect(1032, 670, 10.3, 10, ORANGE);
label(1044, 665, 'A', 7); label(1044, 675, 'B', 7);

// ---- panel H boxplots
function boxLines(low, q1, q3, high, off) {
  const hw = 0.18, pts = [];
  cellTypes.forEach((_, i) => {
    const x = i + off;
    pts.push({ x, y: low[i] }, { x, y: q1[i] }, { x: NaN, y: NaN });
    pts.push({ x: x - hw, y: q1[i] }, { x: x + hw, y: q1[i] }, { x: x + hw, y: q3[i] }, { x: x - hw, y: q3[i] }, { x: x - hw, y: q1[i] }, { x: NaN, y: NaN });
    pts.push({ x, y: q3[i] }, { x, y: high[i] }, { x: NaN, y: NaN });
  });
  return pts;
}
function medLines(med, off) {
  const pts = [];
  med.forEach((m, i) => pts.push({ x: i + off - 0.18, y: m }, { x: i + off + 0.18, y: m }, { x: NaN, y: NaN }));
  return pts;
}
function outPoints(list, off) {
  const pts = [];
  list.forEach((vals, i) => vals.forEach(y => pts.push({ x: i + off, y })));
  return pts;
}
const lineSet = (data, color, width) => ({ data, showLine: true, pointRadius: 0, borderColor: color, borderWidth: width, spanGaps: false });
const dotSet = (data, color, r) => ({ data, showLine: false, pointRadius: r, pointBackgroundColor: color, pointBorderWidth: 0 });

new Chart(addCanvas(0, 880, 540, 396), {
  type: 'scatter',
  data: { datasets: [
    lineSet(boxLines(aLow, aQ1, aQ3, aHigh, -0.2), BLUE, 1.2), lineSet(medLines(aMed, -0.2), BLUE, 2.2), dotSet(outPoints(aOut, -0.2), BLUE, 2.6),
    lineSet(boxLines(bLow, bQ1, bQ3, bHigh, 0.2), ORANGE, 1.2), lineSet(medLines(bMed, 0.2), ORANGE, 2.2), dotSet(outPoints(bOut, 0.2), ORANGE, 2.6)
  ] },
  options: {
    layout: { padding: { top: 8.3, right: 23.3 } },
    scales: {
      x: axisStyle({
        min: -0.6, max: 22.6,
        afterBuildTicks(s) { s.ticks = cellTypes.map((_, value) => ({ value })); },
        afterFit(s) { s.height = 127; },
        ticks: { autoSkip: false, minRotation: 52, maxRotation: 52, padding: 1, labelOffset: 5, color: '#222', font: { size: 12 }, callback: v => cellTypes[v] }
      }),
      y: axisStyle({
        min: -0.048, max: 1.05,
        title: { display: true, text: 'Immune infiltration', color: '#222', font: { size: 12 }, padding: { top: 2, bottom: 0 } },
        afterBuildTicks(s) { s.ticks = [0, .25, .5, .75, 1].map(value => ({ value })); },
        afterFit(s) { s.width = 43.7; },
        ticks: { padding: 2, color: '#222', font: { size: 12 }, callback: v => v.toFixed(2) }
      })
    }
  },
  plugins: [textPlugin(cellStars.map((text, x) => ({ text, x, y: 1.015, font: '10px "Liberation Sans"', color: '#222' })))]
});

label(220, 863, 'gene.cluster', 11, { color: '#222' });
[[282, BLUE, 'A', 304], [315, ORANGE, 'B', 334]].forEach(([x, color, t, tx]) => {
  rect(x + 5.5, 855, 1.2, 15, color);
  rect(x, 858, 12, 9, '#fff', `1.2px solid ${color}`);
  rect(x, 862, 12, 1.4, color);
  label(tx, 863, t, 10, { color: '#222' });
});

// ---- panel I violins
function violinOutline(i, off, low, peak, high) {
  const halfWidth = 0.13, x0 = i + off, right = [], left = [];
  const up = violinUp.map(([f, w]) => ({ y: peak + (high - peak) * (f === 1 && w === 1 ? 0 : f), w: f === 1 && w === 1 ? 1 : w }));
  const down = violinUp.map(([f, w]) => ({ y: peak - (peak - low) * (f === 1 && w === 1 ? 0 : f), w: f === 1 && w === 1 ? 1 : w }));
  up.slice().reverse().forEach(p => right.push({ x: x0 + halfWidth * p.w, y: p.y }));
  down.slice(1).forEach(p => right.push({ x: x0 + halfWidth * p.w, y: p.y }));
  down.slice(0, -1).reverse().forEach(p => left.push({ x: x0 - halfWidth * p.w, y: p.y }));
  up.slice(1, -1).forEach(p => left.push({ x: x0 - halfWidth * p.w, y: p.y }));
  return right.concat(left);
}
// datasets listed first are drawn on top
function violinSets(low, med, high, off, color) {
  const stems = [];
  genes.forEach((_, i) => stems.push({ x: i + off, y: low[i] }, { x: i + off, y: high[i] }, { x: NaN, y: NaN }));
  const bodies = genes.map((_, i) => {
    const pts = violinOutline(i, off, low[i], med[i], high[i]);
    return { data: pts.concat([pts[0]]), showLine: true, pointRadius: 0, borderColor: '#000', borderWidth: 0.7, outlineColor: color };
  });
  return [dotSet(med.map((y, i) => ({ x: i + off, y })), '#fff', 2.6), lineSet(stems, '#000', 1), ...bodies];
}
const brackets = [];
genes.forEach((_, i) => {
  const top = Math.max(vAHigh[i], vBHigh[i]);
  brackets.push({ x: i - 0.165, y: top }, { x: i + 0.165, y: top }, { x: NaN, y: NaN });
});

new Chart(addCanvas(590, 950, 470, 326), {
  type: 'scatter',
  data: { datasets: [...violinSets(vALow, vAMed, vAHigh, -0.165, '#0000c8'), ...violinSets(vBLow, vBMed, vBHigh, 0.165, '#e00000'), lineSet(brackets, '#555', 0.8)] },
  options: {
    layout: { padding: { top: 9.3, right: 21.7 } },
    scales: {
      x: axisStyle({
        min: -0.74, max: 14.7,
        border: { display: true, color: '#444', width: 1.2 },
        afterBuildTicks(s) { s.ticks = genes.map((_, value) => ({ value })); },
        afterFit(s) { s.height = 70.3; },
        ticks: { autoSkip: false, minRotation: 52, maxRotation: 52, padding: 1, labelOffset: 3, color: '#222', font: { size: 10 }, callback: v => genes[v] }
      }),
      y: axisStyle({
        min: 1.305, max: 7.79,
        border: { display: true, color: '#444', width: 1.2 },
        title: { display: true, text: 'Gene expression', color: '#222', font: { size: 10 }, padding: { top: 7, bottom: 0 } },
        afterBuildTicks(s) { s.ticks = [2, 3, 4, 5, 6, 7].map(value => ({ value })); },
        afterFit(s) { s.width = 51; },
        ticks: { padding: 3, color: '#222', font: { size: 10 }, callback: v => String(v) }
      })
    }
  },
  plugins: [outlineFill, textPlugin(pTexts.map((text, x) => ({ text, x, y: pHeight[x], font: '7.5px "Liberation Sans"', color: '#222' })))]
});

label(771, 957, 'gene.cluster', 8.5, { color: '#222' });
[[826, '#0000c8', 'A', 839], [852, '#e00000', 'B', 866]].forEach(([x, color, t, tx]) => {
  rect(x, 946, 8, 20, color).style.clipPath = 'polygon(50% 0,100% 50%,50% 100%,0 50%)';
  rect(x + 2, 954, 4.5, 4.5, '#fff').style.borderRadius = '50%';
  label(tx, 957, t, 8.5, { color: '#222' });
});
</script>
</body>
</html>
